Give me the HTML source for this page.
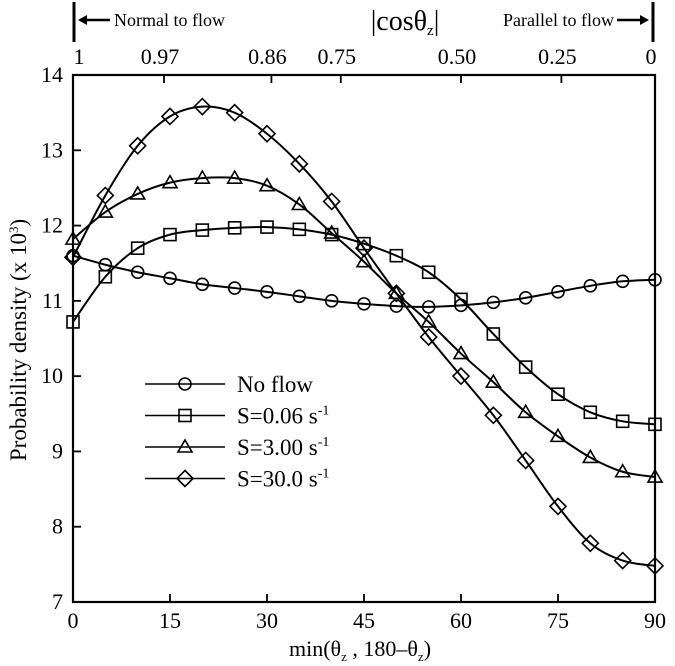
<!DOCTYPE html>
<html><head><meta charset="utf-8"><style>
body{margin:0;background:#fff;}
svg{display:block;font-family:"Liberation Serif","DejaVu Serif",serif;}
</style></head><body>
<svg id="c" width="675" height="666" viewBox="0 0 675 666">
<g id="frame"></g>
<g id="marks"></g>
<g id="top">
<line x1="74" y1="2" x2="74" y2="42" stroke="#000" stroke-width="3"/>
<line x1="653" y1="2" x2="653" y2="42" stroke="#000" stroke-width="3"/>
<line x1="80" y1="20" x2="110" y2="20" stroke="#000" stroke-width="2.5"/>
<polygon points="78,20 87,15 87,25" fill="#000"/>
<line x1="617" y1="20" x2="645" y2="20" stroke="#000" stroke-width="2.5"/>
<polygon points="649,20 640,15 640,25" fill="#000"/>
<text x="114" y="26" font-size="18">Normal to flow</text>
<text x="405" y="30" font-size="28" text-anchor="middle">|cosθ<tspan font-size="15" dy="5">z</tspan><tspan dy="-5">|</tspan></text>
<text x="614" y="26" font-size="18" text-anchor="end">Parallel to flow</text>
</g>
<g id="legend"></g>
<text x="360" y="656" font-size="22" text-anchor="middle">min(θ<tspan font-size="13" dy="5">z</tspan><tspan dy="-5"> , 180–θ</tspan><tspan font-size="13" dy="5">z</tspan><tspan dy="-5">)</tspan></text>
<text transform="translate(26,340) rotate(-90)" font-size="23" text-anchor="middle">Probability density (x 10<tspan font-size="13" dy="-8">3</tspan><tspan dy="8">)</tspan></text>
</svg>
<script>
const xs=[0,5,10,15,20,25,30,35,40,45,50,55,60,65,70,75,80,85,90];
const noFlow=[11.6,11.48,11.38,11.3,11.22,11.17,11.12,11.06,11.0,10.96,10.93,10.92,10.94,10.98,11.04,11.12,11.2,11.26,11.28];
const s006=[10.72,11.32,11.7,11.88,11.94,11.97,11.98,11.95,11.88,11.76,11.6,11.38,11.02,10.56,10.12,9.76,9.52,9.4,9.36];
const s300=[11.82,12.18,12.42,12.57,12.63,12.63,12.53,12.28,11.9,11.52,11.1,10.72,10.3,9.92,9.52,9.2,8.92,8.73,8.66];
const s300b=[11.58,12.4,13.06,13.45,13.58,13.5,13.22,12.82,12.32,11.7,11.1,10.52,10.0,9.48,8.88,8.27,7.78,7.55,7.48];
const xTicks=[0,15,30,45,60,75,90];
const yTicks=[7,8,9,10,11,12,13,14];
const topLabels=["1","0.97","0.86","0.75","0.50","0.25","0"];
const topValues=[1,0.97,0.86,0.75,0.5,0.25,0];
const seriesNames=["No flow","S=0.06 s","S=3.00 s","S=30.0 s"];
const NS="http://www.w3.org/2000/svg";
const X0=73,X1=655,Y0=602,Y1=75;
const sx=v=>X0+(v-0)/(90-0)*(X1-X0);
const sy=v=>Y0-(v-7)/(14-7)*(Y0-Y1);
function mk(t,a,p){const e=document.createElementNS(NS,t);for(const k in a)e.setAttribute(k,a[k]);(p||document.getElementById('c')).appendChild(e);return e;}
const fr=document.getElementById('frame');
const box=mk('rect',{x:X0,y:Y1,width:X1-X0,height:Y0-Y1,fill:'none',stroke:'#000','stroke-width':2.2},fr);


xTicks.forEach(t=>{
 mk('line',{x1:sx(t),y1:Y0,x2:sx(t),y2:Y0-8,stroke:'#000','stroke-width':1.8},fr);
 const e=mk('text',{x:sx(t),y:Y0+26,'font-size':22,'text-anchor':'middle'},fr);e.textContent=t;
 
 
});
yTicks.forEach(t=>{
 mk('line',{x1:X0,y1:sy(t),x2:X0+8,y2:sy(t),stroke:'#000','stroke-width':1.8},fr);
 const e=mk('text',{x:X0-10,y:sy(t)+7,'font-size':22,'text-anchor':'end'},fr);e.textContent=t;
 
 
});
topValues.forEach((c,i)=>{
 const ang=Math.acos(c)*180/Math.PI;const x=sx(ang);
 if(i>0&&i<topValues.length-1)mk('line',{x1:x,y1:Y1,x2:x,y2:Y1+8,stroke:'#000','stroke-width':1.8},fr);
 const dx=(i==0)?6:(i==topValues.length-1?-4:-4);
 const e=mk('text',{x:x+dx,y:64,'font-size':22,'text-anchor':'middle'},fr);e.textContent=topLabels[i];
 
 
});
function path(pts){let d=`M${pts[0][0]},${pts[0][1]}`;for(let i=0;i<pts.length-1;i++){const p0=pts[i-1]||pts[i],p1=pts[i],p2=pts[i+1],p3=pts[i+2]||p2;d+=` C${p1[0]+(p2[0]-p0[0])/6},${p1[1]+(p2[1]-p0[1])/6} ${p2[0]-(p3[0]-p1[0])/6},${p2[1]-(p3[1]-p1[1])/6} ${p2[0]},${p2[1]}`;}return d;}
function marker(type,x,y,g){
 const a={fill:'none',stroke:'#000','stroke-width':1.6};let e;
 if(type==0)e=mk('circle',Object.assign({cx:x,cy:y,r:6},a),g);
 else if(type==1)e=mk('rect',Object.assign({x:x-6,y:y-6,width:12,height:12},a),g);
 else if(type==2)e=mk('polygon',Object.assign({points:`${x},${y-7} ${x+7},${y+5} ${x-7},${y+5}`},a),g);
 else e=mk('polygon',Object.assign({points:`${x},${y-8} ${x+8},${y} ${x},${y+8} ${x-8},${y}`},a),g);
 return e;
}
const all=[noFlow,s006,s300,s300b];const names=['no-flow','s-0-06','s-3-00','s-30-0'];
const mg=document.getElementById('marks');
all.forEach((vals,k)=>{
 const g=mk('g',{},mg);
 
 
 const pts=xs.map((x,i)=>[sx(x),sy(vals[i])]);
 const p=mk('path',{d:path(pts),fill:'none',stroke:'#000','stroke-width':2},g);
 
 
 pts.forEach(q=>{const m=marker(k,q[0],q[1],g);
  
  });
});
const lg=document.getElementById('legend');
seriesNames.forEach((n,k)=>{
 const y=384+k*31.5;
 const g=mk('g',{},lg);
 
 
 mk('line',{x1:145,y1:y,x2:225,y2:y,stroke:'#000','stroke-width':1.6},g);
 marker(k,185,y,g);
 const t=mk('text',{x:237,y:y+8,'font-size':23},g);
 t.textContent=n;
 if(k>0){const s=mk('tspan',{'font-size':14,dy:-9},t);s.textContent='-1';}
});
</script>
</body></html>
